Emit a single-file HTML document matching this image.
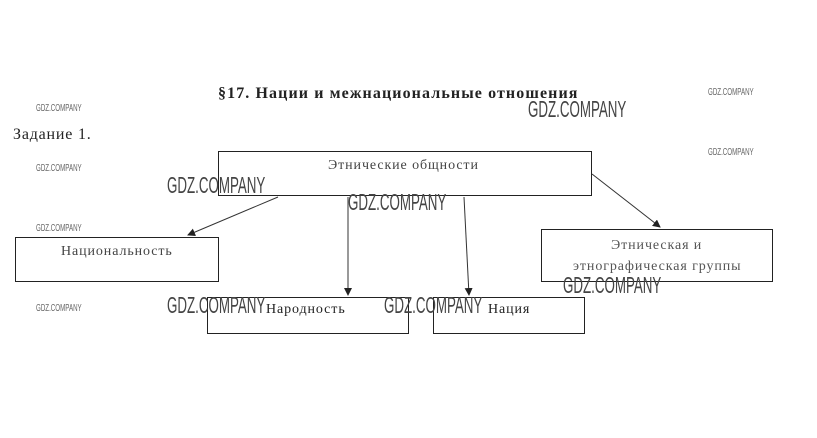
<!DOCTYPE html>
<html><head><meta charset="utf-8"><style>
body{margin:0;width:817px;height:438px;background:#fff;position:relative;overflow:hidden;font-family:"Liberation Serif","Noto Serif CJK SC",serif;color:#222}
.a{position:absolute;white-space:nowrap;letter-spacing:0.9px}
.box{position:absolute;border:1px solid #222;box-sizing:border-box}
.wl{position:absolute;font-family:"Liberation Sans",sans-serif;font-size:23px;color:#444;transform-origin:0 0;transform:scaleX(0.58);white-space:nowrap;line-height:1}
.ws{position:absolute;font-family:"Liberation Sans",sans-serif;font-size:10px;color:#666;transform-origin:0 0;transform:scaleX(0.62);white-space:nowrap;line-height:1}
</style></head><body>
<div class="a" style="left:218px;top:85px;font-size:16px;font-weight:bold;letter-spacing:1.1px">§17. Нации и межнациональные отношения</div>
<div class="a" style="left:13px;top:126px;font-size:16px;letter-spacing:0.8px">Задание 1.</div>

<div class="box" style="left:218px;top:151px;width:374px;height:45px"></div>
<div class="a" style="left:328px;top:158px;font-size:14px;color:#444">Этнические общности</div>
<div class="box" style="left:15px;top:237px;width:204px;height:45px"></div>
<div class="a" style="left:61px;top:244px;font-size:14px;color:#444">Национальность</div>
<div class="box" style="left:207px;top:297px;width:202px;height:37px"></div>
<div class="a" style="left:266px;top:302px;font-size:14px">Народность</div>
<div class="box" style="left:433px;top:297px;width:152px;height:37px"></div>
<div class="a" style="left:488px;top:302px;font-size:14px">Нация</div>
<div class="box" style="left:541px;top:229px;width:232px;height:53px"></div>
<div class="a" style="left:611px;top:238px;font-size:14px;color:#555">Этническая и</div>
<div class="a" style="left:573px;top:259px;font-size:14px;color:#555">этнографическая группы</div>

<svg style="position:absolute;left:0;top:0" width="817" height="438">
<defs><marker id="m" markerWidth="8" markerHeight="8" refX="7" refY="4" orient="auto" markerUnits="userSpaceOnUse"><path d="M0,0L8,4L0,8z" fill="#222"/></marker></defs>
<g stroke="#333" stroke-width="1" fill="none">
<line x1="278" y1="197" x2="188" y2="235" marker-end="url(#m)"/>
<line x1="348" y1="197" x2="348" y2="295" marker-end="url(#m)"/>
<line x1="464" y1="197" x2="469" y2="295" marker-end="url(#m)"/>
<line x1="592" y1="174" x2="660" y2="227" marker-end="url(#m)"/>
</g></svg>

<div class="ws" style="left:36px;top:104px">GDZ.COMPANY</div>
<div class="ws" style="left:36px;top:164px">GDZ.COMPANY</div>
<div class="ws" style="left:36px;top:224px">GDZ.COMPANY</div>
<div class="ws" style="left:36px;top:304px">GDZ.COMPANY</div>
<div class="ws" style="left:708px;top:88px">GDZ.COMPANY</div>
<div class="ws" style="left:708px;top:148px">GDZ.COMPANY</div>
<div class="wl" style="left:528px;top:98px">GDZ.COMPANY</div>
<div class="wl" style="left:167px;top:174px">GDZ.COMPANY</div>
<div class="wl" style="left:348px;top:191px">GDZ.COMPANY</div>
<div class="wl" style="left:167px;top:294px">GDZ.COMPANY</div>
<div class="wl" style="left:384px;top:294px">GDZ.COMPANY</div>
<div class="wl" style="left:563px;top:274px">GDZ.COMPANY</div>
</body></html>
